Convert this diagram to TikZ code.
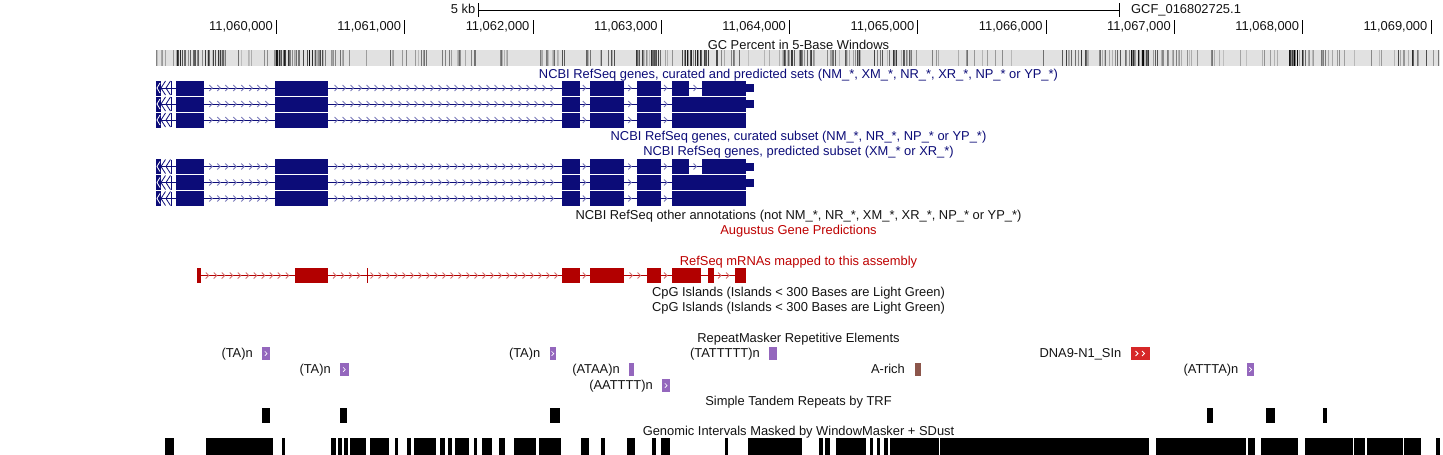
\documentclass[tikz,border=0pt]{standalone}
\usepackage{fontspec}
\setmainfont{Liberation Sans}
\definecolor{gblue}{RGB}{12,12,120}
\definecolor{gblueL}{RGB}{120,120,185}
\definecolor{mred}{RGB}{178,0,0}
\definecolor{mredL}{RGB}{215,110,110}
\definecolor{lred}{RGB}{190,0,0}
\definecolor{rmpurple}{RGB}{148,103,189}
\definecolor{rmred}{RGB}{214,39,40}
\definecolor{rmbrown}{RGB}{140,86,75}
\definecolor{gcbg}{RGB}{225,225,225}
\definecolor{txt}{RGB}{20,20,20}
\newcommand\fsz{\fontsize{12.9}{14}\selectfont}
% chevrons inside an intron: y, x1, x2, colour
\newcommand\chevs[4]{%
  \pgfmathtruncatemacro\nch{floor(((#3)-(#2)-2)/8)}%
  \ifnum\nch>0
    \pgfmathsetmacro\offs{((#3)-(#2)-8*\nch)/2}%
    \foreach \k in {1,...,\nch}{%
      \draw[#4,line width=0.8] ({#2+\offs+8*\k-6},{#1-3}) -- ++(3,3) -- ++(-3,3);
    }%
  \fi}
% one RefSeq gene row: y, variant
\newcommand\generow[2]{%
  \draw[gblue,line width=1] (156,#1) -- (745,#1);
  \fill[gblue] (156,#1-7.5) rectangle (160.5,#1+7.5);
  \draw[white,line width=0.8] (160,#1-5) -- (157,#1) -- (160,#1+5);
  \draw[gblue,line width=0.8] (165.5,#1-7) -- (161,#1) -- (165.5,#1+7);
  \draw[gblue,line width=0.8] (170.5,#1-7) -- (166,#1) -- (170.5,#1+7);
  \draw[gblue,line width=0.8] (171,#1-7) -- (171,#1+7);
  \foreach \ea/\eb in {175.5/204,274.5/327.6,561.5/579.5,590/624,636.5/660.5}{%
    \fill[gblue] (\ea,#1-7.5) rectangle (\eb,#1+7.5);}
  \foreach \ia/\ib in {204/274.5,327.6/561.5,579.5/590,624/636.5,660.5/671.5}{%
    \chevs{#1}{\ia}{\ib}{gblueL}}
  \ifnum#2=1
    \fill[gblue] (671.5,#1-7.5) rectangle (689,#1+7.5);
    \fill[gblue] (702,#1-7.5) rectangle (745.5,#1+7.5);
    \chevs{#1}{689}{702}{gblueL}
  \else
    \fill[gblue] (671.5,#1-7.5) rectangle (745.5,#1+7.5);
  \fi
  \ifnum#2<3
    \fill[gblue] (745,#1-4) rectangle (754,#1+4);
  \fi}
% repeat block: x1, x2, y, colour, number of chevrons
\newcommand\rmblock[5]{%
  \fill[#4] (#1,#3-6.5) rectangle (#2,#3+6.5);
  \ifnum#5=1
    \draw[white,line width=0.7] ({(#1+#2)/2-1.2},#3-2.2) -- ++(2.2,2.2) -- ++(-2.2,2.2);
  \fi
  \ifnum#5=2
    \draw[white,line width=0.8] ({(#1+#2)/2-5},#3-2.5) -- ++(2.5,2.5) -- ++(-2.5,2.5);
    \draw[white,line width=0.8] ({(#1+#2)/2+1.5},#3-2.5) -- ++(2.5,2.5) -- ++(-2.5,2.5);
  \fi}
\tikzset{
  lbl/.style={font=\fsz, inner sep=0pt, text=txt},
  tick/.style={line width=1, black},
}
\begin{document}
\begin{tikzpicture}[x=1pt,y=-1pt]
\useasboundingbox (0,0) rectangle (1443,455);
\fill[white] (0,0) rectangle (1443,455);
% ---- scale bar
\draw[tick] (478.5,10) -- (1119.5,10);
\draw[tick] (478.5,3) -- (478.5,17);
\draw[tick] (1119.5,3) -- (1119.5,17);
\node[lbl, anchor=mid east] (kb) at (475.5,10.5) {5 kb};
\node[lbl, anchor=mid west] (asm) at (1131,10.5) {GCF\_016802725.1};
% ---- position ruler
\foreach \k/\t in {0/11{,}060{,}000,1/11{,}061{,}000,2/11{,}062{,}000,3/11{,}063{,}000,4/11{,}064{,}000,5/11{,}065{,}000,6/11{,}066{,}000,7/11{,}067{,}000,8/11{,}068{,}000,9/11{,}069{,}000}{
  \pgfmathsetmacro\tx{276.5+128.28*\k}
  \draw[tick] (\tx,20) -- (\tx,34);
  \node[lbl, anchor=mid east] (pos\k) at (\tx-3.5,28) {\t};
}
% ---- GC percent
\node[lbl] (gclab) at (798.5,45) {GC Percent in 5-Base Windows};
\fill[gcbg] (156,50) rectangle (1440,66);
\pgfmathsetseed{4242}
\foreach \a/\b/\p/\d in {156/162/0.4/70,163/176/0.08/50,177/233/0.55/90,234/236/0.1/50,237/252/0.3/70,253/273/0.08/50,274/328/0.6/95,329/331/0.05/50,332/345/0.22/60,346/369/0.05/50,370/376/0.3/60,377/389/0.05/50,390/407/0.3/70,408/414/0.05/50,415/428/0.35/90,429/439/0.05/50,440/465/0.22/60,466/469/0.05/50,470/482/0.2/60,483/499/0.05/50,500/511/0.22/60,512/539/0.05/50,540/565/0.3/70,566/568/0.05/50,569/590/0.3/70,591/597/0.05/50,598/619/0.3/70,620/634/0.05/50,635/660/0.5/85,661/663/0.05/50,664/673/0.2/60,674/680/0.05/50,681/708/0.55/95,709/713/0.1/50,714/747/0.3/75,748/780/0.07/50,781/789/0.5/95,790/815/0.45/80,816/826/0.05/50,827/836/0.3/70,837/843/0.05/50,844/859/0.45/80,860/872/0.05/50,873/911/0.5/85,912/926/0.05/50,927/932/0.3/60,933/964/0.04/50,965/973/0.25/60,974/1001/0.04/50,1002/1003/0.5/70,1004/1039/0.04/50,1040/1048/0.3/60,1049/1060/0.04/50,1061/1090/0.5/85,1091/1097/0.08/50,1098/1107/0.3/60,1108/1110/0.05/50,1111/1127/0.4/75,1128/1130/0.1/50,1131/1148/0.75/100,1149/1151/0.1/50,1152/1190/0.35/70,1191/1206/0.05/50,1207/1227/0.22/60,1228/1239/0.04/50,1240/1246/0.3/60,1247/1260/0.04/50,1261/1282/0.28/65,1283/1285/0.1/50,1286/1315/0.65/100,1316/1318/0.1/50,1319/1340/0.35/70,1341/1351/0.05/50,1352/1365/0.22/60,1366/1381/0.04/50,1382/1390/0.3/60,1391/1397/0.04/50,1398/1432/0.5/85,1433/1435/0.05/50,1436/1439/0.4/60}{
  \foreach \x in {\a,...,\b}{
    \pgfmathsetmacro\r{rnd}
    \ifdim\r pt<\p pt
      \pgfmathtruncatemacro\sh{25+(\d-25)*rnd}
      \draw[black!\sh, line width=1] (\x+0.5,50) -- (\x+0.5,66);
    \fi
  }
}
% ---- RefSeq all
\node[lbl, text=gblue] (rsall) at (798.5,75) {NCBI RefSeq genes, curated and predicted sets (NM\_*, XM\_*, NR\_*, XR\_*, NP\_* or YP\_*)};
\generow{88}{1}
\generow{104}{2}
\generow{120}{3}
\node[lbl, text=gblue] (rscur) at (798.5,137) {NCBI RefSeq genes, curated subset (NM\_*, NR\_*, NP\_* or YP\_*)};
\node[lbl, text=gblue] (rspred) at (798.5,152.5) {NCBI RefSeq genes, predicted subset (XM\_* or XR\_*)};
\generow{166.5}{1}
\generow{182.5}{2}
\generow{198.5}{3}
\node[lbl] (rsother) at (798.5,216) {NCBI RefSeq other annotations (not NM\_*, NR\_*, XM\_*, XR\_*, NP\_* or YP\_*)};
\node[lbl, text=lred] (aug) at (798.5,231) {Augustus Gene Predictions};
% ---- RefSeq mRNAs
\node[lbl, text=lred] (mrna) at (798.5,262) {RefSeq mRNAs mapped to this assembly};
\draw[mred, line width=1] (200.5,275.5) -- (734.5,275.5);
\foreach \ea/\eb in {196.5/200.5,295/327.5,366.5/367.5,561.5/579.5,590/624,647/660.5,671.5/701,708/713.5,734.5/745.5}{
  \fill[mred] (\ea,268) rectangle (\eb,283);}
\foreach \ia/\ib in {200.5/295,327.5/366.5,367.5/561.5,579.5/590,624/647,660.5/671.5,701/708,713.5/734.5}{
  \chevs{275.5}{\ia}{\ib}{mredL}}
% ---- CpG
\node[lbl] (cpg1) at (798.5,293) {CpG Islands (Islands < 300 Bases are Light Green)};
\node[lbl] (cpg2) at (798.5,308) {CpG Islands (Islands < 300 Bases are Light Green)};
% ---- RepeatMasker
\node[lbl] (rmlab) at (798.5,339) {RepeatMasker Repetitive Elements};
\rmblock{262}{270}{353.5}{rmpurple}{1}
\node[lbl, anchor=mid east] (r1) at (253,354.5) {(TA)n};
\rmblock{549.5}{556}{353.5}{rmpurple}{1}
\node[lbl, anchor=mid east] (r2) at (540.5,354.5) {(TA)n};
\rmblock{769}{776.5}{353.5}{rmpurple}{0}
\node[lbl, anchor=mid east] (r3) at (760,354.5) {(TATTTTT)n};
\rmblock{1131}{1150}{353.5}{rmred}{2}
\node[lbl, anchor=mid east] (r4) at (1121.5,354.5) {DNA9-N1\_SIn};
\rmblock{340}{348.5}{369.5}{rmpurple}{1}
\node[lbl, anchor=mid east] (r5) at (331,370.5) {(TA)n};
\rmblock{629}{633.5}{369.5}{rmpurple}{0}
\node[lbl, anchor=mid east] (r6) at (620,370.5) {(ATAA)n};
\rmblock{915}{921}{369.5}{rmbrown}{0}
\node[lbl, anchor=mid east] (r7) at (905,370.5) {A-rich};
\rmblock{1247}{1254}{369.5}{rmpurple}{1}
\node[lbl, anchor=mid east] (r8) at (1238.5,370.5) {(ATTTA)n};
\rmblock{662}{670}{385.5}{rmpurple}{1}
\node[lbl, anchor=mid east] (r9) at (653,386.5) {(AATTTT)n};
% ---- Simple tandem repeats
\node[lbl] (trf) at (798.5,402) {Simple Tandem Repeats by TRF};
\foreach \ea/\eb in {262/270,340/347,549.5/560,1207/1213,1266/1274.5,1323/1326.5}{
  \fill[black] (\ea,408) rectangle (\eb,422.5);}
% ---- WindowMasker
\node[lbl] (wm) at (798.5,432.5) {Genomic Intervals Masked by WindowMasker + SDust};
\foreach \ea/\eb in {165/174,206/273,282/285,331/336,338/342,344/348,350/366,370/389,395/398,407/411,414/436,440/445,448/452,455/469,474/477,482/492,499/505,514/536,539/561,581/589,601/605,627/635,652/655.5,661/669.5,724.5/728,748/802,819/822.5,825/829.5,836/866,870/873,876.5/879.5,883.5/888,890/939,940/1149,1156/1246,1248/1254.5,1261/1297.5,1304.5/1352.5,1354/1365,1366.5/1402.5,1403.5/1421,1436/1440}{
  \fill[black] (\ea,438) rectangle (\eb,455);}
\end{tikzpicture}
\end{document}
